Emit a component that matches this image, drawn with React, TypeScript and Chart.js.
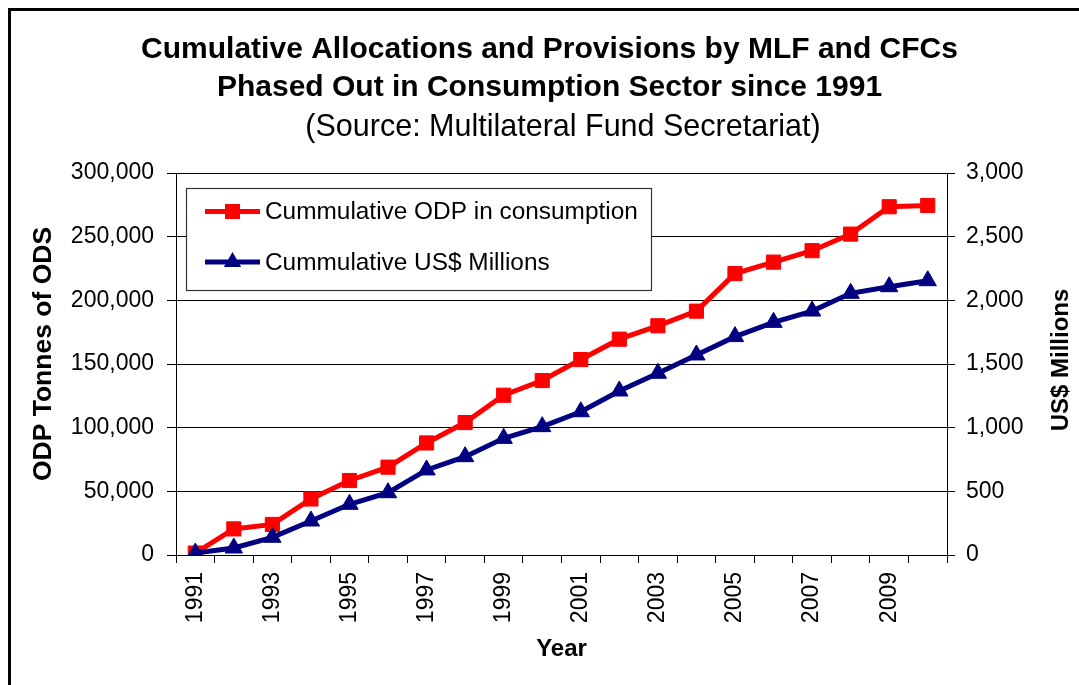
import React, { useEffect, useRef } from 'react';
import { Chart, registerables } from 'chart.js';

Chart.register(...registerables);

const FONT = "'Liberation Sans', Arial, Helvetica, sans-serif";

const titleLines = [
  'Cumulative Allocations and Provisions by MLF and CFCs',
  'Phased Out in Consumption Sector since 1991',
];
const subtitleText = '(Source: Multilateral Fund Secretariat)';
const xAxisTitle = 'Year';
const leftAxisTitle = 'ODP Tonnes of ODS';
const rightAxisTitle = 'US$ Millions';

const years = [
  '1991', '1992', '1993', '1994', '1995', '1996', '1997', '1998', '1999', '2000',
  '2001', '2002', '2003', '2004', '2005', '2006', '2007', '2008', '2009', '2010',
];

const odpLabel = 'Cummulative ODP in consumption';
const odpValues = [
  1500, 20500, 24000, 44000, 58500, 69000, 88000, 104000, 125500, 137000,
  153500, 169500, 180000, 191500, 221000, 230000, 239000, 252000, 273500, 274500,
];

const usdLabel = 'Cummulative US$ Millions';
const usdValues = [
  15, 55, 139, 267, 398, 489, 668, 772, 916, 1008,
  1125, 1288, 1427, 1571, 1715, 1827, 1916, 2055, 2107, 2154,
];

const RED = '#FF0000';
const NAVY = '#000080';

const fmt = (v: number) => Number(v).toLocaleString('en-US');

const decorPlugin = {
  id: 'decor',
  beforeDraw(chart: any) {
    const ctx = chart.ctx;
    ctx.save();
    ctx.fillStyle = '#ffffff';
    ctx.fillRect(0, 0, chart.width, chart.height);
    ctx.fillStyle = '#000000';
    ctx.fillRect(8, 8, 3, chart.height - 8);
    ctx.fillRect(8, 8, chart.width - 8, 3);
    ctx.restore();
  },
  afterDatasetsDraw(chart: any) {
    const ctx = chart.ctx;
    ctx.save();
    // subtitle
    ctx.fillStyle = '#000000';
    ctx.font = `30.5px ${FONT}`;
    ctx.textAlign = 'center';
    ctx.textBaseline = 'middle';
    ctx.fillText(subtitleText, 563, 128);

    // legend box
    const bx = 186.5, by = 188.5, bw = 465, bh = 102;
    ctx.fillStyle = '#ffffff';
    ctx.fillRect(bx, by, bw, bh);
    ctx.strokeStyle = '#333333';
    ctx.lineWidth = 1.2;
    ctx.strokeRect(bx, by, bw, bh);
    chart.data.datasets.forEach((ds: any, i: number) => {
      const y = 211.5 + i * 50.5;
      ctx.strokeStyle = ds.borderColor;
      ctx.lineWidth = 5;
      ctx.beginPath();
      ctx.moveTo(205, y);
      ctx.lineTo(260, y);
      ctx.stroke();
      ctx.fillStyle = ds.borderColor;
      const cx = 232.5;
      if (ds.pointStyle === 'rect') {
        ctx.fillRect(cx - 7.5, y - 7.5, 15, 15);
      } else {
        const r = 10;
        ctx.beginPath();
        ctx.moveTo(cx, y - r);
        ctx.lineTo(cx + r * 0.866, y + r * 0.5);
        ctx.lineTo(cx - r * 0.866, y + r * 0.5);
        ctx.closePath();
        ctx.fill();
      }
      ctx.fillStyle = '#000000';
      ctx.font = `24.4px ${FONT}`;
      ctx.textAlign = 'left';
      ctx.textBaseline = 'middle';
      ctx.fillText(ds.label, 265, y + 1);
    });

    // axis titles (both read bottom to top)
    const drawV = (text: string, x: number, y: number, size: number) => {
      ctx.save();
      ctx.translate(x, y);
      ctx.rotate(-Math.PI / 2);
      ctx.fillStyle = '#000000';
      ctx.font = `bold ${size}px ${FONT}`;
      ctx.textAlign = 'center';
      ctx.textBaseline = 'middle';
      ctx.fillText(text, 0, 0);
      ctx.restore();
    };
    drawV(leftAxisTitle, 44, 354, 26.5);
    drawV(rightAxisTitle, 1061, 360, 24);
    ctx.restore();
  },
};

export default function App() {
  const canvasRef = useRef<HTMLCanvasElement | null>(null);

  useEffect(() => {
    if (!canvasRef.current) return;
    const chart = new Chart(canvasRef.current, {
      type: 'line',
      data: {
        labels: years,
        datasets: [
          {
            label: odpLabel,
            data: odpValues,
            yAxisID: 'y',
            borderColor: RED,
            backgroundColor: RED,
            borderWidth: 5,
            tension: 0,
            pointStyle: 'rect',
            pointRadius: 10,
            pointBorderWidth: 1,
            pointBackgroundColor: RED,
            pointBorderColor: RED,
            order: 1,
          },
          {
            label: usdLabel,
            data: usdValues,
            yAxisID: 'y1',
            borderColor: NAVY,
            backgroundColor: NAVY,
            borderWidth: 5,
            tension: 0,
            pointStyle: 'triangle',
            pointRadius: 10,
            pointBorderWidth: 1,
            pointBackgroundColor: NAVY,
            pointBorderColor: NAVY,
            order: 0,
          },
        ],
      },
      options: {
        animation: false,
        responsive: false,
        devicePixelRatio: 1,
        events: [],
        layout: { padding: { left: 20, right: 0, top: 0, bottom: 0 } },
        plugins: {
          legend: { display: false },
          tooltip: { enabled: false },
          title: {
            display: true,
            text: titleLines,
            color: '#000000',
            font: { family: FONT, size: 30, weight: 'bold', lineHeight: 38 / 30 },
            padding: { top: 31, bottom: 66 },
          },
          subtitle: { display: false },
        },
        scales: {
          x: {
            type: 'category',
            offset: true,
            grid: {
              offset: true,
              drawOnChartArea: false,
              drawTicks: true,
              tickLength: 8,
              color: '#000000',
            },
            border: { display: true, color: '#000000', width: 1 },
            ticks: {
              autoSkip: false,
              minRotation: 90,
              maxRotation: 90,
              padding: 9,
              color: '#000000',
              font: { family: FONT, size: 23 },
              callback: (_v: any, i: number) => (i % 2 === 0 ? years[i] : ''),
            },
            title: {
              display: true,
              text: xAxisTitle,
              color: '#000000',
              font: { family: FONT, size: 24, weight: 'bold', lineHeight: 1.2 },
              padding: { top: 0, bottom: 21 },
            },
            afterFit: (scale: any) => {
              scale.height = 130;
            },
          },
          y: {
            type: 'linear',
            position: 'left',
            min: 0,
            max: 300000,
            grid: {
              drawOnChartArea: true,
              drawTicks: true,
              tickLength: 9,
              color: '#000000',
              lineWidth: 1,
            },
            border: { display: true, color: '#000000', width: 1 },
            ticks: {
              stepSize: 50000,
              padding: 13,
              color: '#000000',
              font: { family: FONT, size: 23 },
              callback: (v: any) => fmt(v),
            },
            afterFit: (scale: any) => {
              scale.width = 156;
            },
          },
          y1: {
            type: 'linear',
            position: 'right',
            min: 0,
            max: 3000,
            grid: {
              drawOnChartArea: false,
              drawTicks: true,
              tickLength: 8,
              color: '#000000',
            },
            border: { display: true, color: '#000000', width: 1 },
            ticks: {
              stepSize: 500,
              padding: 11,
              color: '#000000',
              font: { family: FONT, size: 23 },
              callback: (v: any) => fmt(v),
            },
            afterFit: (scale: any) => {
              scale.width = 132;
            },
          },
        },
      },
      plugins: [decorPlugin],
    } as any);
    return () => chart.destroy();
  }, []);

  return (
    <div style={{ position: 'fixed', left: 0, top: 0, width: 1079, height: 685, background: '#fff' }}>
      <canvas ref={canvasRef} width={1079} height={685} style={{ display: 'block', width: 1079, height: 685 }} />
    </div>
  );
}
